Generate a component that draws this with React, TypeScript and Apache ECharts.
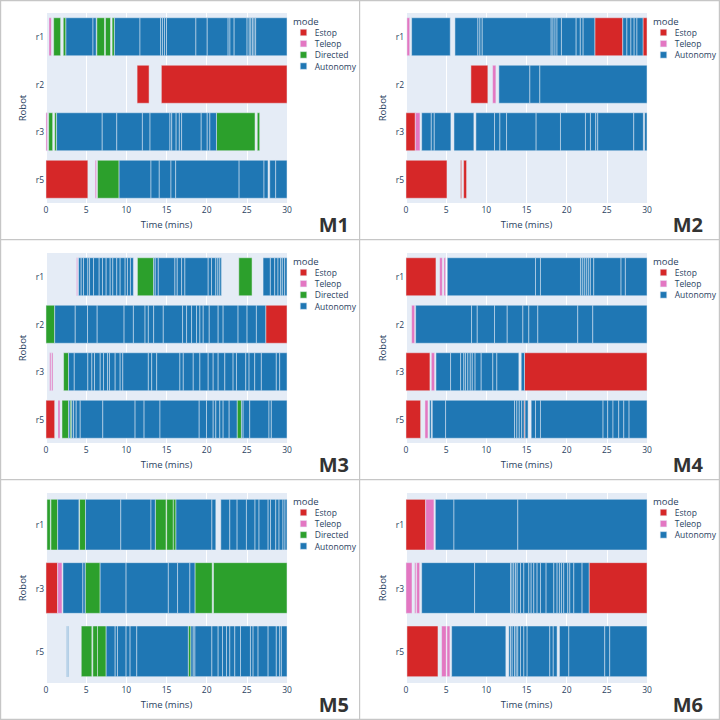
import React, { useEffect, useRef } from "react";
import * as echarts from "echarts";

const MODES = ["Estop", "Teleop", "Directed", "Autonomy"];
const MODE_KEYS = ["E", "T", "D", "A"];
const MODE_COLORS = ["#d62728", "#e377c2", "#2ca02c", "#1f77b4"];
const X_MIN = 0;
const X_MAX = 30;
const X_STEP = 5;
const ROBOTS_4 = ["r1", "r2", "r3", "r5"];
const ROBOTS_3 = ["r1", "r3", "r5"];
const LEGEND_4 = ["Estop", "Teleop", "Directed", "Autonomy"];
const LEGEND_3 = ["Estop", "Teleop", "Autonomy"];

// Each run: [mode, t0, t1, t2, ...] -> consecutive segments [t0,t1], [t1,t2], ...
type Run = (string | number)[];

// ---------- M1 ----------
const M1_R1: Run[] = [
  ["T", 0.37, 0.66], ["D", 0.95, 1.82], ["D", 2.15, 2.48], ["A", 2.48, 5.85, 6.25],
  ["D", 6.33, 7.28], ["D", 7.4, 8.03], ["D", 8.23, 8.52],
  ["A", 8.52, 11.7, 14.27, 14.5, 14.75, 15.0, 18.66, 20.07, 22.67, 22.9, 23.42, 25.03, 25.3, 25.5, 25.7, 25.9, 26.1, 30],
];
const M1_R2: Run[] = [["E", 11.34, 12.83], ["E", 14.36, 30]];
const M1_R3: Run[] = [
  ["T", 0, 0.17], ["D", 0.33, 0.83], ["D", 1.08, 1.32],
  ["A", 1.32, 7.0, 8.81, 12.0, 12.95, 15.43, 15.65, 16.2, 16.6, 16.88, 19.32, 20.07, 20.4, 21.22],
  ["D", 21.22, 26.02], ["D", 26.3, 26.6],
];
const M1_R5: Run[] = [
  ["E", 0, 5.21], ["T", 6.12, 6.29], ["D", 6.41, 9.1],
  ["A", 9.1, 13.07, 14.1, 15.56, 16.14, 24.04, 27.14, 27.64], ["A", 27.85, 28.59, 30],
];

// ---------- M2 ----------
const M2_R1: Run[] = [
  ["T", 0.12, 0.46], ["A", 0.7, 5.51],
  ["A", 6.09, 8.95, 9.2, 9.49, 18.07, 18.3, 18.55, 18.8, 19.35, 21.18, 21.7, 22.05, 23.5],
  ["E", 23.5, 26.98], ["A", 26.98, 27.5, 28.0, 28.4, 28.75, 29.5], ["E", 29.5, 30],
];
const M2_R2: Run[] = [["E", 8.08, 10.19], ["T", 10.78, 11.19], ["A", 11.56, 15.42, 16.66, 30]];
const M2_R3: Run[] = [
  ["E", 0, 1.16], ["T", 1.16, 1.74], ["A", 1.95, 3.15, 3.52, 5.59], ["A", 5.97, 8.45],
  ["A", 8.7, 11.02, 11.69, 12.52, 16.2, 19.23, 22.34, 22.96, 23.62, 23.87, 28.35, 29.55], ["A", 29.7, 30],
];
const M2_R5: Run[] = [["E", 0, 5.1], ["E", 6.8, 6.92], ["E", 7.17, 7.54]];

// ---------- M3 ----------
const M3_R1: Run[] = [
  ["T", 3.8, 3.93],
  ["A", 4.05, 4.38, 4.67, 5.21, 5.42, 5.92, 6.62, 7.03, 7.49, 7.99, 8.32, 8.81, 9.23, 9.85, 10.14, 10.51, 10.88],
  ["D", 11.38, 13.4],
  ["A", 13.4, 13.6, 13.98, 16.05, 16.34, 16.88, 17.29, 20.19, 20.6, 21.14, 21.4, 21.64, 21.85],
  ["D", 24.0, 25.65], ["A", 27.02, 27.93, 28.47, 28.88, 29.21, 29.42, 29.71, 30],
];
const M3_R2: Run[] = [
  ["D", 0, 1.08],
  ["A", 1.08, 3.64, 5.17, 6.37, 9.72, 10.88, 12.33, 12.74, 13.4, 14.6, 17.0, 17.5, 18.12, 18.74, 19.16, 19.57, 20.32, 21.43, 22.05, 23.91, 25.03, 26.19, 27.35],
  ["E", 27.35, 30],
];
const M3_R3: Run[] = [
  ["T", 0.46, 0.62], ["T", 0.7, 0.87], ["D", 2.19, 2.81],
  ["A", 2.81, 3.52, 5.21, 5.71, 6.04, 6.75, 7.16, 7.66, 7.9, 8.61, 9.23, 9.56, 12.74, 13.16, 13.78, 16.67, 17.09, 18.33, 19.16, 20.19, 20.81, 21.43, 22.26, 23.29, 23.71, 24.87, 25.28, 25.98, 26.81, 28.67, 29.09, 30],
];
const M3_R5: Run[] = [
  ["E", 0, 1.08], ["T", 1.49, 1.74], ["D", 1.99, 2.81], ["A", 2.81, 3.0], ["D", 3.0, 3.2],
  ["A", 3.2, 3.43, 3.76, 4.26, 7.07, 11.09, 12.21, 14.19, 19.07, 19.98, 20.81, 21.14, 21.64, 22.05, 22.8, 23.79],
  ["D", 23.79, 24.33], ["A", 24.33, 24.54, 25.36, 27.76, 28.05, 30],
];

// ---------- M4 ----------
const M4_R1: Run[] = [
  ["E", 0, 3.73], ["T", 4.19, 4.52], ["T", 4.72, 4.93],
  ["A", 5.14, 16.12, 16.74, 21.72, 21.95, 22.2, 22.45, 22.7, 22.95, 23.37, 26.77, 27.31, 30],
];
const M4_R2: Run[] = [
  ["T", 0.7, 1.08], ["A", 1.2, 8.16, 8.87, 11.02, 12.6, 14.55, 15.29, 16.41, 21.38, 23.25, 30],
];
const M4_R3: Run[] = [
  ["E", 0, 2.98], ["T", 3.15, 3.56],
  ["A", 3.73, 5.55, 6.8, 7.2, 7.4, 7.7, 8.0, 8.25, 8.6, 9.36, 10.81, 11.31, 14.05], ["A", 14.34, 14.75],
  ["E", 14.75, 30],
];
const M4_R5: Run[] = [
  ["E", 0, 1.82], ["T", 2.36, 2.74], ["A", 2.94, 3.15], ["A", 3.27, 4.93, 13.51, 13.8, 14.1, 14.4, 14.7],
  ["E", 14.7, 14.82], ["A", 14.82, 15.2],
  ["A", 15.58, 16.12, 16.74, 24.53, 25.11, 25.77, 26.48, 27.11, 27.77, 30],
];

// ---------- M5 ----------
const M5_R1: Run[] = [
  ["D", 0.12, 0.54], ["D", 0.62, 1.45], ["A", 1.45, 4.1], ["D", 4.18, 4.92], ["A", 4.92, 9.31, 13.07, 13.61],
  ["D", 13.61, 14.94], ["D", 15.02, 15.85, 16.18], ["A", 16.18, 20.65, 21.14],
  ["A", 21.76, 22.88, 23.79, 24.95, 26.02, 26.52, 27.65, 27.95, 28.6, 29.01, 29.5, 29.75, 30],
];
const M5_R3: Run[] = [
  ["E", 0, 1.45], ["T", 1.45, 1.99], ["A", 2.11, 4.59, 4.88], ["D", 4.88, 6.74],
  ["A", 6.74, 9.97, 15.23, 16.38, 17.91, 18.54], ["D", 18.54, 20.69], ["D", 20.85, 30],
];
const M5_R5: Run[] = [
  ["A", 2.55, 2.62, 2.69, 2.76, 2.83], ["D", 4.39, 5.71], ["D", 5.83, 6.41, 7.49],
  ["A", 7.49, 8.61, 8.9, 9.97, 10.47, 11.3, 17.71], ["D", 17.71, 18.04],
  ["A", 18.04, 18.33, 18.54, 20.65, 21.43, 21.97, 22.47, 22.88, 23.5, 24.21, 25.45, 25.78, 26.4, 27.65, 28.67, 29.09, 29.3, 30],
];

// ---------- M6 ----------
const M6_R1: Run[] = [["E", 0, 2.45], ["T", 2.45, 3.48], ["A", 3.65, 5.97, 13.92, 30]];
const M6_R3: Run[] = [
  ["T", 0, 0.75], ["T", 1.08, 1.24], ["T", 1.33, 1.7],
  ["A", 1.95, 8.54, 13.01, 13.2, 13.42, 13.63, 13.84, 14.26, 14.67, 15.29, 15.58, 15.91, 16.32, 16.74, 17.44, 18.4, 18.81, 19.1, 19.35, 19.64, 20.14, 20.39, 20.89, 21.92, 22.79],
  ["E", 22.79, 30],
];
const M6_R5: Run[] = [
  ["E", 0.12, 3.98], ["T", 4.43, 5.01], ["T", 5.1, 5.47], ["A", 5.68, 12.43],
  ["A", 12.8, 13.01, 13.22, 13.51, 13.72, 13.92, 14.26, 14.67, 15.08, 17.9, 18.33, 18.81],
  ["A", 19.1, 20.27, 24.74, 25.36, 30],
];

const PANELS = [
  { label: "M1", robots: ROBOTS_4, runs: [M1_R1, M1_R2, M1_R3, M1_R5], legend: LEGEND_4 },
  { label: "M2", robots: ROBOTS_4, runs: [M2_R1, M2_R2, M2_R3, M2_R5], legend: LEGEND_3 },
  { label: "M3", robots: ROBOTS_4, runs: [M3_R1, M3_R2, M3_R3, M3_R5], legend: LEGEND_4 },
  { label: "M4", robots: ROBOTS_4, runs: [M4_R1, M4_R2, M4_R3, M4_R5], legend: LEGEND_3 },
  { label: "M5", robots: ROBOTS_3, runs: [M5_R1, M5_R3, M5_R5], legend: LEGEND_4 },
  { label: "M6", robots: ROBOTS_3, runs: [M6_R1, M6_R3, M6_R5], legend: LEGEND_3 },
];

const FONT = "'Open Sans', Verdana, Arial, sans-serif";
const TEXT_COLOR = "#2a3f5f";
const PLOT_BG = "#E5ECF6";
const PANEL_W = 360;
const PANEL_H = 240;

function buildOption() {
  const grids: any[] = [];
  const xAxes: any[] = [];
  const yAxes: any[] = [];
  const series: any[] = [];
  const legends: any[] = [];
  const graphics: any[] = [];

  PANELS.forEach((panel, i) => {
    const col = i % 2;
    const row = Math.floor(i / 2);
    const px = col * PANEL_W;
    const py = row * PANEL_H;

    grids.push({
      left: px + 46,
      top: py + 13,
      width: 241,
      height: 190,
      show: true,
      backgroundColor: PLOT_BG,
      borderWidth: 0,
      containLabel: false,
    });

    xAxes.push({
      type: "value",
      gridIndex: i,
      min: X_MIN,
      max: X_MAX,
      interval: X_STEP,
      name: "Time (mins)",
      nameLocation: "middle",
      nameGap: 16,
      nameTextStyle: { color: TEXT_COLOR, fontSize: 9.5, fontFamily: FONT },
      axisLine: { show: false },
      axisTick: { show: false },
      splitLine: { show: true, lineStyle: { color: "#ffffff", width: 1 } },
      axisLabel: { color: TEXT_COLOR, fontSize: 8.5, fontFamily: FONT, margin: 2 },
    });

    yAxes.push({
      type: "category",
      gridIndex: i,
      data: panel.robots,
      inverse: true,
      name: "Robot",
      nameLocation: "middle",
      nameGap: 19,
      nameRotate: 90,
      nameTextStyle: { color: TEXT_COLOR, fontSize: 9.5, fontFamily: FONT },
      axisLine: { show: false },
      axisTick: { show: false },
      splitLine: { show: false },
      axisLabel: { color: TEXT_COLOR, fontSize: 8.5, fontFamily: FONT, margin: 2 },
    });

    const perMode: number[][][] = MODES.map(() => []);
    panel.runs.forEach((runs, robotIdx) => {
      runs.forEach((run) => {
        const m = MODE_KEYS.indexOf(run[0] as string);
        const ts = run.slice(1) as number[];
        for (let k = 0; k < ts.length - 1; k++) {
          perMode[m].push([ts[k], ts[k + 1], robotIdx]);
        }
      });
    });

    MODES.forEach((mode, m) => {
      const color = MODE_COLORS[m];
      series.push({
        type: "custom",
        name: mode,
        xAxisIndex: i,
        yAxisIndex: i,
        itemStyle: { color },
        encode: { x: [0, 1], y: 2 },
        data: perMode[m],
        renderItem: (params: any, api: any) => {
          const y = api.value(2);
          const p0 = api.coord([api.value(0), y]);
          const p1 = api.coord([api.value(1), y]);
          const h = api.size([0, 1])[1] * 0.8;
          return {
            type: "rect",
            shape: { x: p0[0], y: p0[1] - h / 2, width: Math.max(p1[0] - p0[0], 0.3), height: h },
            style: { fill: color, stroke: PLOT_BG, lineWidth: 0.5 },
          };
        },
      });
    });

    legends.push({
      orient: "vertical",
      left: px + 300,
      top: py + 28,
      data: panel.legend,
      icon: "rect",
      itemWidth: 6.5,
      itemHeight: 6.5,
      itemGap: 2.2,
      selectedMode: false,
      padding: 0,
      itemStyle: { borderColor: PLOT_BG, borderWidth: 0.5 },
      textStyle: { color: TEXT_COLOR, fontSize: 8.5, fontFamily: FONT, lineHeight: 8, padding: [0, 0, 0, 3] },
    });

    graphics.push({
      type: "text",
      x: px + 293,
      y: py + 21,
      style: { text: "mode", fill: TEXT_COLOR, fontSize: 9.5, fontFamily: FONT, verticalAlign: "middle", align: "left" },
    });
    graphics.push({
      type: "text",
      x: px + (col === 0 ? 349 : 343),
      y: py + 224,
      style: {
        text: panel.label,
        fill: "#333333",
        fontSize: 20,
        fontWeight: "bold",
        fontFamily: FONT,
        verticalAlign: "middle",
        align: "right",
      },
    });
  });

  const lineStyle = { stroke: "#c6c6c6", lineWidth: 1.2 };
  [0.6, 359.6, 719.4].forEach((x) => {
    graphics.push({ type: "line", shape: { x1: x, y1: 0, x2: x, y2: 720 }, style: lineStyle, z: 100 });
  });
  [0.6, 239.6, 479.6, 719.4].forEach((y) => {
    graphics.push({ type: "line", shape: { x1: 0, y1: y, x2: 720, y2: y }, style: lineStyle, z: 100 });
  });

  return {
    animation: false,
    backgroundColor: "#ffffff",
    textStyle: { fontFamily: FONT },
    grid: grids,
    xAxis: xAxes,
    yAxis: yAxes,
    legend: legends,
    series,
    graphic: graphics,
  };
}

export default function App() {
  const ref = useRef<HTMLDivElement>(null);
  useEffect(() => {
    document.body.style.margin = "0";
    if (!ref.current) return;
    const chart = echarts.init(ref.current, undefined, { renderer: "svg" });
    chart.setOption(buildOption());
    return () => chart.dispose();
  }, []);
  return <div ref={ref} style={{ width: 720, height: 720 }} />;
}
